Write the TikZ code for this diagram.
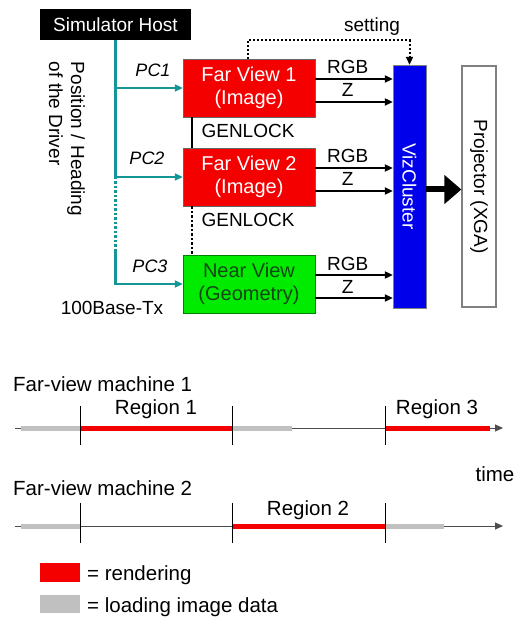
\documentclass[tikz,border=0pt]{standalone}
\usepackage{fontspec}
\setmainfont{Liberation Sans}
\usetikzlibrary{arrows.meta}
\definecolor{busteal}{RGB}{20,150,150}
\definecolor{farred}{RGB}{245,0,0}
\definecolor{neargreen}{RGB}{0,235,0}
\definecolor{neartext}{RGB}{20,70,20}
\definecolor{vizblue}{RGB}{0,0,235}
\definecolor{loadgrey}{RGB}{192,192,192}

\begin{document}
\begin{tikzpicture}[x=1pt, y=-1pt, >={Triangle[length=8pt,width=7pt]},
  lbl/.style={font=\fontsize{19}{22}\selectfont, inner sep=0pt},
  tl/.style={font=\fontsize{20.5}{23}\selectfont, inner sep=0pt},
  viewbox/.style={draw=black!60, minimum width=132pt, minimum height=58pt, inner sep=0pt,
    align=center, font=\fontsize{20}{23}\selectfont},
  bus/.style={busteal, line width=2.5pt},
  feed/.style={->, line width=2.5pt},
  render/.style={farred, line width=5pt},
  load/.style={loadgrey, line width=5pt}]
\useasboundingbox (0,0) rectangle (516,617);
% upper part: the simulator set-up
\node[fill=black, text=white, minimum width=151pt, minimum height=31pt, inner sep=0pt,
  font=\fontsize{19}{22}\selectfont] (host) at (115.5,24.5) {Simulator Host};
\node[viewbox, fill=farred, text=white] (far1) at (249,88)  {Far View 1\\(Image)};
\node[viewbox, fill=farred, text=white] (far2) at (249,177) {Far View 2\\(Image)};
\node[viewbox, draw=green!50!black, fill=neargreen, text=neartext] (near) at (249,284) {Near View\\(Geometry)};
\node[draw=black!50, fill=vizblue, minimum width=33pt, minimum height=243pt, inner sep=0pt] (viz) at (409.5,186.5) {};
\node[lbl, rotate=-90, text=white] (viztext) at (viz) {VizCluster};
\node[draw=black!50, line width=1.2pt, minimum width=34pt, minimum height=241pt, inner sep=0pt] (proj) at (479,186.5) {};
\node[lbl, rotate=-90] (projtext) at (proj) {Projector (XGA)};
\node[lbl, rotate=-90, align=left] (driver) at (67,139) {Position / Heading\\of the Driver};
\node[lbl, font=\fontsize{18}{20}\itshape] (pc1) at (153,70) {PC1};
\node[lbl, font=\fontsize{18}{20}\itshape] (pc2) at (147,158) {PC2};
\node[lbl, font=\fontsize{18}{20}\itshape] (pc3) at (150,266) {PC3};
\node[lbl, anchor=base] (gen1) at (248,138) {GENLOCK};
\node[lbl, anchor=base] (gen2) at (248,226) {GENLOCK};
\node[lbl, anchor=base] (lan) at (112,314) {100Base-Tx};
\node[lbl, anchor=base] (set) at (372,32) {setting};
\coordinate (b3) at (115.5,250);
\coordinate (gk) at (192,0);
\coordinate (s1) at (248,40);
\draw[bus, ->] (host.south) |- (far1.west);
\draw[bus, ->] (host.south) |- (far2.west);
\draw[bus, dotted] (host.south |- far2.west) -- (b3);
\draw[bus, ->] (b3) |- (near.west);
\draw[line width=2.5pt] (far1.south -| gk) -- (far2.north -| gk);
\draw[line width=2.5pt, dotted] (far2.south -| gk) -- (near.north -| gk);
\draw[line width=2pt, dotted, ->] (s1 |- far1.north) -- (s1) -| (viz.north);
\foreach \v in {far1,far2,near}{
  \draw[feed] ([yshift=9pt]\v.east) -- ([yshift=9pt]\v.east -| viz.west)
    node[lbl, pos=0.42, anchor=base, yshift=5pt] {RGB};
  \draw[feed] ([yshift=-14pt]\v.east) -- ([yshift=-14pt]\v.east -| viz.west)
    node[lbl, pos=0.42, anchor=base, yshift=5pt] {Z};
}
\draw[line width=6pt, -{Triangle[length=17pt,width=28pt]}] ([yshift=-3pt]viz.east) -- ([yshift=-3pt]proj.west);
% lower part: the two time lines
\node[tl, anchor=base west] (m1) at (13,391) {Far-view machine 1};
\draw[black!70, line width=1pt, ->] (15,428) -- (503,428);
\draw[load] (21,428) -- (80,428);
\draw[render] (80,428) -- (232,428);
\draw[load] (232,428) -- (292,428);
\draw[render] (385,428) -- (490,428);
\foreach \t in {80,232,385}
  \draw[line width=0.8pt] (\t,406) -- (\t,445);
\node[tl, anchor=base] (reg1) at (156,414) {Region 1};
\node[tl, anchor=base] (reg3) at (437,414) {Region 3};
\node[tl, anchor=base] (time) at (495,481) {time};
\node[tl, anchor=base west] (m2) at (13,495) {Far-view machine 2};
\draw[black!70, line width=1pt, ->] (15,526) -- (503,526);
\draw[load] (21,526) -- (80,526);
\draw[render] (232,526) -- (385,526);
\draw[load] (385,526) -- (444,526);
\foreach \t in {80,232,385}
  \draw[line width=0.8pt] (\t,503) -- (\t,543);
\node[tl, anchor=base] (reg2) at (308,515) {Region 2};
\fill[farred] (40,563) rectangle (80,582);
\fill[loadgrey] (40,595) rectangle (80,613);
\node[tl, anchor=base west] (leg1) at (87,580) {= rendering};
\node[tl, anchor=base west] (leg2) at (87,612) {= loading image data};
\end{tikzpicture}
\end{document}
